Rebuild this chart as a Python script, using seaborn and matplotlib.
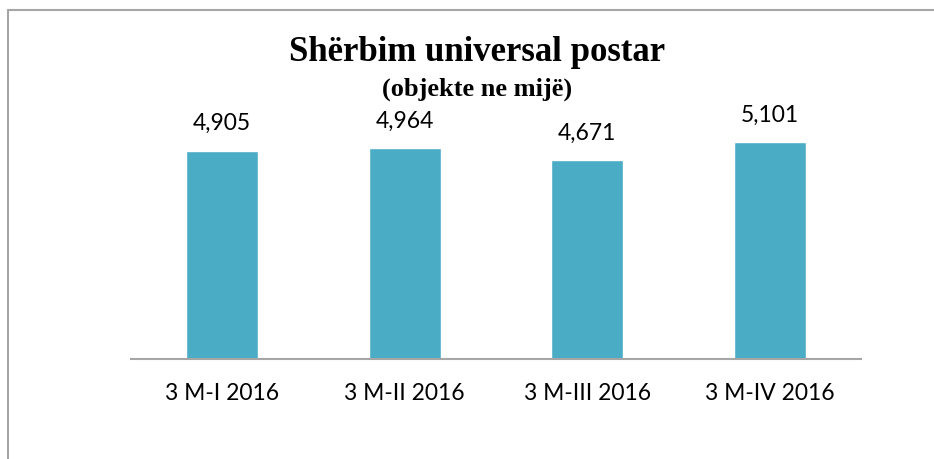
import matplotlib
matplotlib.use('Agg')
import matplotlib.pyplot as plt
import seaborn as sns
import pandas as pd
from matplotlib.lines import Line2D

periods = ['3 M-I 2016', '3 M-II 2016', '3 M-III 2016', '3 M-IV 2016']
objects = [4905, 4964, 4671, 5101]

title = 'Shërbim universal postar'
subtitle = '(objekte ne mijë)'

sns.set_style('white')
plt.rcParams['font.family'] = ['Lato', 'DejaVu Sans']
plt.rcParams['text.color'] = 'black'
plt.rcParams['xtick.color'] = 'black'

df = pd.DataFrame({'period': periods, 'objects': objects})

fig = plt.figure(figsize=(9.34, 4.59), dpi=100)
ax = fig.add_axes([131 / 934, 1 - 359 / 459, 730 / 934, 255 / 459])

sns.barplot(data=df, x='period', y='objects', color='#4BACC6', width=0.395,
            saturation=1, ax=ax)

ax.set_ylim(0, 6000)
ax.set_xlim(-0.5, 3.5)
ax.set_xlabel('')
ax.set_ylabel('')
ax.set_yticks([])
for side in ['top', 'right', 'left']:
    ax.spines[side].set_visible(False)
ax.spines['bottom'].set_color('#A6A6A6')
ax.spines['bottom'].set_linewidth(1.5)
ax.tick_params(axis='x', length=0, pad=17, labelsize=16.5, labelcolor='black')

for i, v in enumerate(objects):
    ax.annotate(f'{v:,}', (i, v), xytext=(0, 12), textcoords='offset points',
                ha='center', va='bottom', fontsize=16.5, color='black')

fig.text(0.511, 1 - 61 / 459, title, ha='center', va='baseline',
         family='Liberation Serif', fontweight='bold', fontsize=25, color='black')
fig.text(0.511, 1 - 96 / 459, subtitle, ha='center', va='baseline',
         family='Liberation Serif', fontweight='bold', fontsize=19, color='black')

# chart frame, only top and left edges visible in the crop
fig.add_artist(Line2D([8 / 934, 1.01], [1 - 10 / 459, 1 - 10 / 459],
                      transform=fig.transFigure, color='#A6A6A6', lw=1.5))
fig.add_artist(Line2D([8 / 934, 8 / 934], [1 - 10 / 459, -0.01],
                      transform=fig.transFigure, color='#A6A6A6', lw=1.5))

plt.savefig('out.png', dpi=100)
